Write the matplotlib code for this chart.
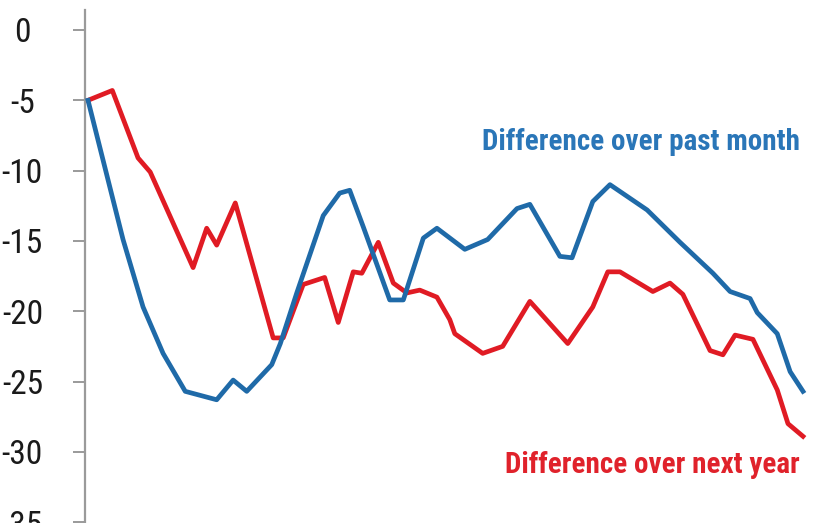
import matplotlib
matplotlib.use("Agg")
import matplotlib.pyplot as plt
from matplotlib import font_manager

# ---- data ----
past_month_x = [0, 4.9, 7.7, 10.5, 13.6, 18.0, 20.3, 22.2, 25.7, 26.9, 29.2, 32.9, 35.2,
                36.6, 38.5, 42.2, 44.1, 46.9, 48.8, 52.7, 55.9, 60.0, 61.8, 66.0, 67.7,
                70.6, 73.0, 78.2, 82.8, 87.4, 89.8, 92.6, 93.6, 96.4, 98.2, 100]
past_month_y = [-5.0, -14.9, -19.7, -23.0, -25.7, -26.3, -24.9, -25.7, -23.8, -22.3, -18.7,
                -13.2, -11.6, -11.4, -14.0, -19.2, -19.2, -14.8, -14.1, -15.6, -14.9, -12.7,
                -12.4, -16.1, -16.2, -12.2, -11.0, -12.8, -15.1, -17.3, -18.6, -19.1, -20.1,
                -21.6, -24.3, -25.7]

next_year_x = [0, 3.4, 7.0, 8.7, 14.7, 16.6, 18.0, 20.6, 25.9, 27.3, 30.1, 33.1, 35.0, 37.1,
               38.3, 40.6, 42.7, 44.6, 46.4, 48.8, 50.6, 51.3, 55.2, 58.0, 61.8, 67.1, 70.6,
               72.7, 74.4, 79.0, 81.4, 83.2, 87.0, 88.8, 90.5, 93.0, 96.4, 97.9, 100]
next_year_y = [-5.0, -4.3, -9.1, -10.1, -16.9, -14.1, -15.3, -12.3, -21.9, -21.9, -18.1,
               -17.6, -20.8, -17.2, -17.3, -15.1, -18.0, -18.7, -18.5, -19.0, -20.6, -21.6,
               -23.0, -22.5, -19.3, -22.3, -19.7, -17.2, -17.2, -18.6, -18.0, -18.8, -22.8,
               -23.1, -21.7, -22.0, -25.6, -28.0, -28.9]

y_ticks = [0, -5, -10, -15, -20, -25, -30, -35]
label_past = "Difference over past month"
label_next = "Difference over next year"

# ---- style ----
avail = {f.name for f in font_manager.fontManager.ttflist}
cond = [f for f in ["Roboto Condensed", "DejaVu Sans Condensed", "Liberation Sans Narrow"] if f in avail]
fam = cond + ["DejaVu Sans"]

BLUE = "#1f6aa8"
RED = "#e01b24"
BLUE_TXT = "#2a76b8"
RED_TXT = "#e0222b"

W, H = 839, 523
fig = plt.figure(figsize=(W / 100, H / 100), dpi=100)
fig.patch.set_facecolor("white")

ax_left, ax_right, ax_top, ax_bottom = 85, 839, 10, 523
ax = fig.add_axes([ax_left / W, 1 - ax_bottom / H, (ax_right - ax_left) / W, (ax_bottom - ax_top) / H])

px_per_x = (803 - 88) / 100.0
px_per_y = 14.06
ax.set_xlim(-(88 - ax_left) / px_per_x, 100 + (ax_right - 803) / px_per_x)
ax.set_ylim(-(ax_bottom - 30) / px_per_y, (30 - ax_top) / px_per_y)

ax.plot(past_month_x, past_month_y, color=BLUE, lw=3.4, solid_joinstyle="round", zorder=3)
ax.plot(next_year_x, next_year_y, color=RED, lw=3.4, solid_joinstyle="round", zorder=2)

for s in ["top", "right", "bottom"]:
    ax.spines[s].set_visible(False)
ax.spines["left"].set_color("#9a9a9a")
ax.spines["left"].set_linewidth(1.6)
ax.set_xticks([])
ax.set_yticks(y_ticks)
ax.set_yticklabels([str(t) for t in y_ticks])
ax.tick_params(axis="y", length=8.6, width=1.4, color="#9a9a9a", pad=36.5, labelsize=24,
               labelcolor="#1a1a1a")
for lab in ax.get_yticklabels():
    lab.set_horizontalalignment("center")
    lab.set_family(fam)

fig.text(800 / W, 1 - 150 / H, label_past, color=BLUE_TXT, fontsize=21, fontweight="bold",
         family=fam, ha="right", va="baseline")
fig.text(800 / W, 1 - 473 / H, label_next, color=RED_TXT, fontsize=21, fontweight="bold",
         family=fam, ha="right", va="baseline")

fig.savefig("out.png", dpi=100, facecolor="white")
